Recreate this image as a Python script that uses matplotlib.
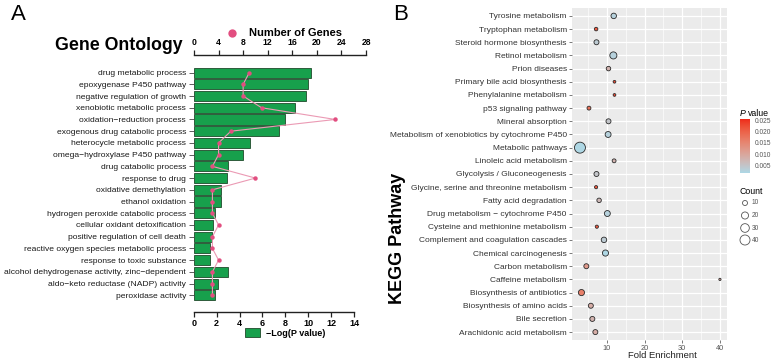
import numpy as np
import matplotlib
matplotlib.use("Agg")
import matplotlib.pyplot as plt
from matplotlib.colors import LinearSegmentedColormap
from matplotlib.patches import Rectangle

plt.rcParams['font.family'] = ['Liberation Sans', 'DejaVu Sans']

# ---------------- Panel A data ----------------
go_terms = [
    "drug metabolic process", "epoxygenase P450 pathway", "negative regulation of growth",
    "xenobiotic metabolic process", "oxidation\u2212reduction process", "exogenous drug catabolic process",
    "heterocycle metabolic process", "omega\u2212hydroxylase P450 pathway", "drug catabolic process",
    "response to drug", "oxidative demethylation", "ethanol oxidation",
    "hydrogen peroxide catabolic process", "cellular oxidant detoxification",
    "positive regulation of cell death", "reactive oxygen species metabolic process",
    "response to toxic substance", "alcohol dehydrogenase activity, zinc\u2212dependent",
    "aldo\u2212keto reductase (NADP) activity", "peroxidase activity",
]
go_neglogp = [10.25, 10.0, 9.8, 8.85, 8.0, 7.45, 4.9, 4.3, 3.0, 2.9, 2.35, 2.35,
              1.9, 1.65, 1.6, 1.45, 1.45, 3.0, 2.15, 1.85]
go_genes = [9, 8, 8, 11, 23, 6, 4, 4, 3, 10, 3, 3, 3, 4, 3, 3, 4, 3, 3, 3]
bottom_ticks = [0, 2, 4, 6, 8, 10, 12, 14]
top_ticks = [0, 4, 8, 12, 16, 20, 24, 28]

# ---------------- Panel B data ----------------
kegg_terms = [
    "Tyrosine metabolism", "Tryptophan metabolism", "Steroid hormone biosynthesis",
    "Retinol metabolism", "Prion diseases", "Primary bile acid biosynthesis",
    "Phenylalanine metabolism", "p53 signaling pathway", "Mineral absorption",
    "Metabolism of xenobiotics by cytochrome P450", "Metabolic pathways",
    "Linoleic acid metabolism", "Glycolysis / Gluconeogenesis",
    "Glycine, serine and threonine metabolism", "Fatty acid degradation",
    "Drug metabolism \u2212 cytochrome P450", "Cysteine and methionine metabolism",
    "Complement and coagulation cascades", "Chemical carcinogenesis",
    "Carbon metabolism", "Caffeine metabolism", "Biosynthesis of antibiotics",
    "Biosynthesis of amino acids", "Bile secretion", "Arachidonic acid metabolism",
]
kegg_fold = [11.8, 7.1, 7.2, 11.7, 10.4, 12.0, 12.0, 5.2, 10.4, 10.3, 2.8, 11.9, 7.2,
             7.1, 7.9, 10.1, 7.3, 9.2, 9.6, 4.5, 40.1, 3.2, 5.7, 6.1, 6.9]
kegg_count = [12, 5, 10, 20, 8, 3, 3, 6, 10, 14, 48, 6, 10, 4, 8, 14, 4, 12, 15, 10, 2, 15,
              10, 10, 10]
kegg_p = [0.003, 0.021, 0.004, 0.003, 0.008, 0.023, 0.023, 0.018, 0.005, 0.003, 0.002,
          0.008, 0.005, 0.021, 0.007, 0.003, 0.021, 0.004, 0.002, 0.012, 0.010, 0.016,
          0.009, 0.008, 0.009]
count_levels = [10, 20, 30, 40]
p_ticks = [0.005, 0.010, 0.015, 0.020, 0.025]

W, H = 774, 364
fig = plt.figure(figsize=(W / 100, H / 100), dpi=100)


def px_axes(x0, y0, x1, y1):
    return fig.add_axes([x0 / W, 1 - y1 / H, (x1 - x0) / W, (y1 - y0) / H])


# Lab-space gradient like ggplot2
def srgb_to_lab(c):
    c = np.array(c, float)
    lin = np.where(c <= 0.04045, c / 12.92, ((c + 0.055) / 1.055) ** 2.4)
    M = np.array([[0.4124, 0.3576, 0.1805], [0.2126, 0.7152, 0.0722], [0.0193, 0.1192, 0.9505]])
    xyz = M @ lin / np.array([0.95047, 1.0, 1.08883])
    f = np.where(xyz > 0.008856, np.cbrt(xyz), 7.787 * xyz + 16 / 116)
    return np.array([116 * f[1] - 16, 500 * (f[0] - f[1]), 200 * (f[1] - f[2])])


def lab_to_srgb(lab):
    L, a, b = lab
    fy = (L + 16) / 116
    fx = fy + a / 500
    fz = fy - b / 200
    f = np.array([fx, fy, fz])
    xyz = np.where(f ** 3 > 0.008856, f ** 3, (f - 16 / 116) / 7.787) * np.array([0.95047, 1.0, 1.08883])
    Minv = np.array([[3.2406, -1.5372, -0.4986], [-0.9689, 1.8758, 0.0415], [0.0557, -0.2040, 1.0570]])
    lin = Minv @ xyz
    lin = np.clip(lin, 0, 1)
    c = np.where(lin <= 0.0031308, 12.92 * lin, 1.055 * lin ** (1 / 2.4) - 0.055)
    return np.clip(c, 0, 1)


lo = srgb_to_lab(matplotlib.colors.to_rgb("#ADD8E6"))
hi = srgb_to_lab(matplotlib.colors.to_rgb("#EE2A1A"))
cols = [lab_to_srgb(lo + (hi - lo) * t) for t in np.linspace(0, 1, 32)]
cmap = LinearSegmentedColormap.from_list("lbred", cols)
vmin, vmax = 0.0018, 0.0255

# ---------------- Panel A ----------------
green = "#17a04c"
pink = "#e24e80"
n = len(go_terms)
ypos = np.arange(n)
ax1 = px_axes(193.7, 55, 354, 311.7)
ax1.barh(ypos, go_neglogp, height=0.86, color=green, edgecolor="#1f4a2b", linewidth=0.6)
ax1.set_xlim(0, 14)
ax1.set_ylim(n - 1 + 1.4, -1.5)
for s in ["top", "right", "left"]:
    ax1.spines[s].set_visible(False)
ax1.spines["bottom"].set_linewidth(1.0)
ax1.spines["bottom"].set_color("#222222")
ax1.set_xticks(bottom_ticks)
ax1.set_xticklabels([str(t) for t in bottom_ticks], fontsize=6.5, fontweight="bold")
ax1.set_yticks(ypos)
ax1.set_yticklabels(go_terms, fontsize=6.1, color="#1a1a1a")
ax1.tick_params(axis="x", direction="out", length=3.5, width=0.9, pad=2, color="#222222")
ax1.tick_params(axis="y", direction="out", length=3.5, width=0.6, pad=2, color="#444444")
ax1.patch.set_visible(False)

ax2 = px_axes(194, 55, 366, 311.7)
ax2.patch.set_visible(False)
ax2.plot(go_genes, ypos, color="#eb9ab4", lw=0.8, zorder=2)
ax2.plot(go_genes, ypos, 'o', color=pink, ms=3.2, mec="none", zorder=3)
ax2.set_xlim(0, 28)
ax2.set_ylim(n - 1 + 1.4, -1.5)
for s in ["bottom", "right", "left"]:
    ax2.spines[s].set_visible(False)
ax2.spines["top"].set_linewidth(1.0)
ax2.spines["top"].set_color("#222222")
ax2.xaxis.tick_top()
ax2.set_xticks(top_ticks)
ax2.set_xticklabels([str(t) for t in top_ticks], fontsize=6.2, fontweight="bold")
ax2.tick_params(axis="x", direction="out", length=3.5, width=0.9, pad=2, color="#222222")
ax2.set_yticks([])

# ---------------- Panel B ----------------
m = len(kegg_terms)
ky = np.arange(m)
ax3 = px_axes(571.7, 8, 726.7, 340)
ax3.set_facecolor("#EBEBEB")
ax3.set_xlim(0.6, 41.9)
ax3.set_ylim(m - 1 + 0.6, -0.6)
ax3.set_xticks([10, 20, 30, 40])
ax3.set_xticks([5, 15, 25, 35], minor=True)
ax3.set_yticks(ky)
ax3.set_yticklabels(kegg_terms, fontsize=6.0, color="#333333")
ax3.set_xticklabels(["10", "20", "30", "40"], fontsize=5.3, color="#555555")
ax3.grid(which="major", color="white", lw=0.9)
ax3.grid(which="minor", axis="x", color="white", lw=0.45)
ax3.set_axisbelow(True)
for s in ax3.spines.values():
    s.set_visible(False)
ax3.tick_params(which="major", length=2, width=0.5, color="#444444", pad=1.5)
ax3.tick_params(which="minor", length=0)
size_k = 1.3
ax3.scatter(kegg_fold, ky, s=np.array(kegg_count) * size_k, c=kegg_p, cmap=cmap,
            vmin=vmin, vmax=vmax, edgecolors="#2a2a2a", linewidths=0.6, zorder=3)

# colorbar
cax = px_axes(740, 119, 750, 173)
grad = np.linspace(vmin, vmax, 256).reshape(-1, 1)
cax.imshow(grad, aspect="auto", cmap=cmap, origin="lower", extent=[0, 1, vmin, vmax])
cax.set_xticks([])
cax.yaxis.tick_right()
cax.set_yticks(p_ticks)
cax.set_yticklabels(["%.3f" % t for t in p_ticks], fontsize=4.8, color="#555555")
cax.tick_params(axis="y", length=2, color="white", pad=1.5)
for s in cax.spines.values():
    s.set_visible(False)

# overlay for text and legends
ov = fig.add_axes([0, 0, 1, 1])
ov.set_xlim(0, W)
ov.set_ylim(H, 0)
ov.axis("off")
ov.patch.set_visible(False)

ov.text(11, 4, "A", fontsize=16, va="top", ha="left")
ov.text(393, 4, "B", fontsize=16, va="top", ha="left")
ov.text(183, 49.5, "Gene Ontology", fontsize=12.8, fontweight="bold", ha="right", va="baseline")
ov.plot([231.7], [32.7], 'o', color=pink, ms=6, mec="none")
ov.text(249, 33, "Number of Genes", fontsize=8, fontweight="bold", ha="left", va="center")
ov.add_patch(Rectangle((245, 328), 15, 9, facecolor=green, edgecolor="#1f4a2b", lw=0.6))
ov.text(266, 333, "\u2212Log(P value)", fontsize=6.5, fontweight="bold", ha="left", va="center")

ov.text(397, 238, "KEGG Pathway", fontsize=13, fontweight="bold", rotation=90,
        ha="center", va="center")
ov.text(662, 355, "Fold Enrichment", fontsize=6.8, color="#222222", ha="center", va="center")

ov.text(740, 115.5, "P", fontsize=6.3, style="italic", ha="left", va="baseline")
ov.text(747.5, 115.5, "value", fontsize=6.3, ha="left", va="baseline")
ov.text(740, 194, "Count", fontsize=6.3, ha="left", va="baseline")
leg_y = [203, 215.5, 228, 240]
ov.scatter([745] * len(count_levels), leg_y, s=np.array(count_levels) * size_k,
           facecolors="none", edgecolors="#555555", linewidths=0.6)
for yy, lv in zip(leg_y, count_levels):
    ov.text(752, yy, str(lv), fontsize=4.8, color="#555555", ha="left", va="center")

fig.savefig("out.png", dpi=100)
